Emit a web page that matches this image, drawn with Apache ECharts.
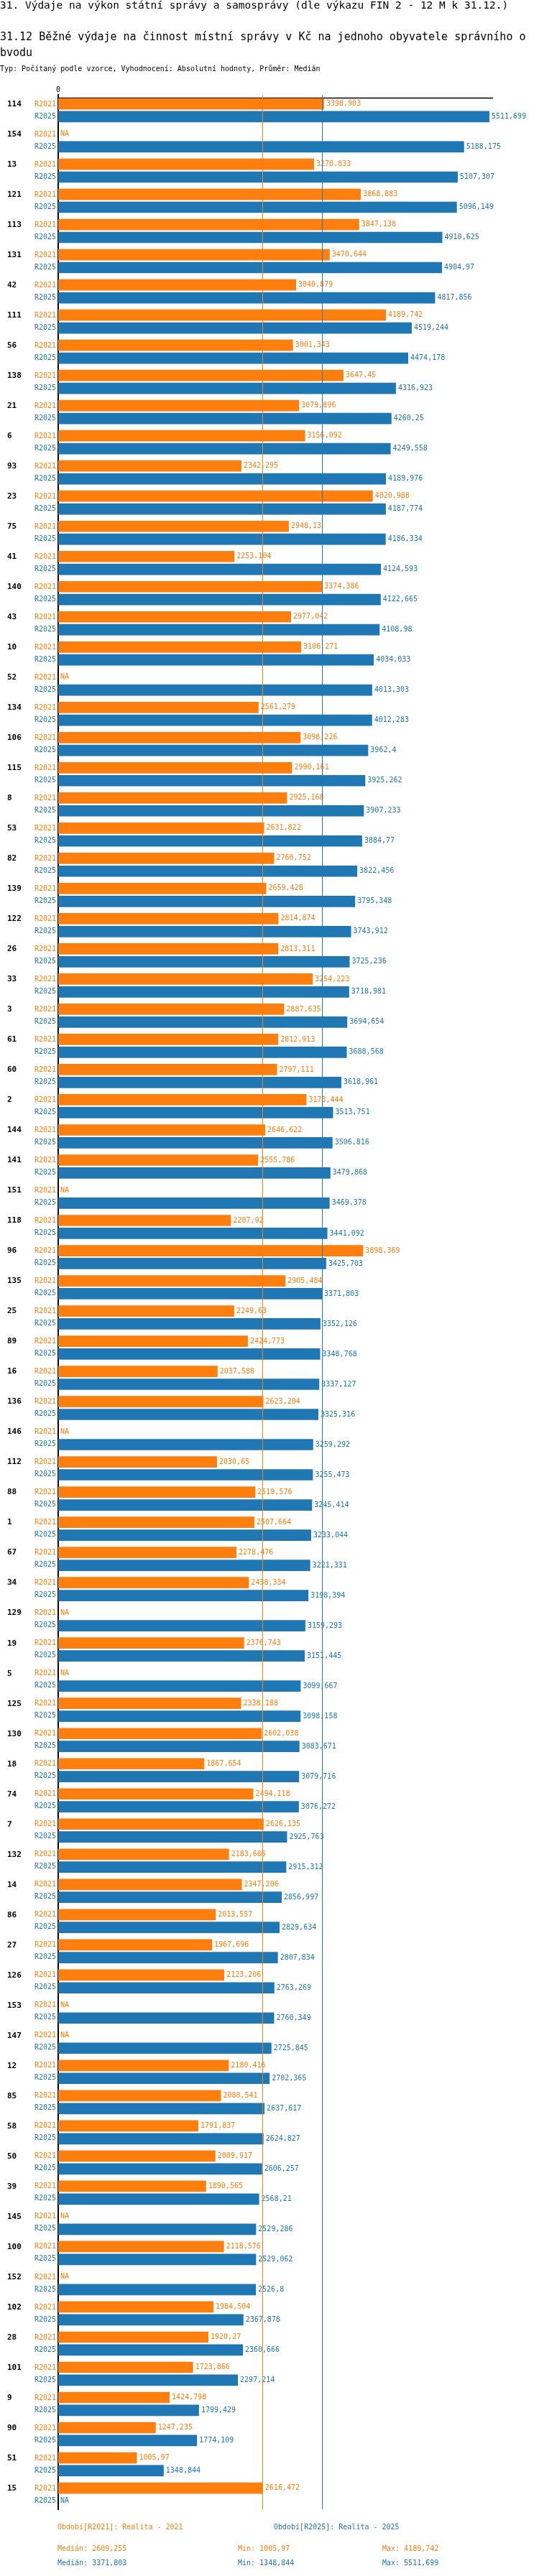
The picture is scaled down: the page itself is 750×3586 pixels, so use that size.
<!DOCTYPE html>
<html>
<head>
<meta charset="utf-8">
<script src="https://cdn.jsdelivr.net/npm/echarts@6/dist/echarts.min.js"></script>
<style>
html,body{margin:0;padding:0;background:#fff;}
#chart{width:750px;height:3586px;}
</style>
</head>
<body>
<div id="chart"></div>
<script>
var categories = ["114","154","13","121","113","131","42","111","56","138",
"21","6","93","23","75","41","140","43","10","52",
"134","106","115","8","53","82","139","122","26","33",
"3","61","60","2","144","141","151","118","96","135",
"25","89","16","136","146","112","88","1","67","34",
"129","19","5","125","130","18","74","7","132","14",
"86","27","126","153","147","12","85","58","50","39",
"145","100","152","102","28","101","9","90","51","15"];

var r2021 = [3398.903, null, 3270.833, 3868.883, 3847.138, 3470.644, 3040.879, 4189.742, 3001.343, 3647.45,
3079.896, 3156.092, 2342.295, 4020.988, 2948.13, 2253.104, 3374.386, 2977.042, 3106.271, null,
2561.279, 3098.226, 2990.161, 2925.168, 2631.822, 2760.752, 2659.428, 2814.874, 2813.311, 3254.223,
2887.635, 2812.913, 2797.111, 3173.444, 2646.622, 2555.786, null, 2207.92, 3898.369, 2905.484,
2249.63, 2424.773, 2037.588, 2623.204, null, 2030.65, 2519.576, 2507.664, 2278.476, 2438.334,
null, 2376.743, null, 2338.188, 2602.038, 1867.654, 2494.118, 2626.135, 2183.686, 2347.206,
2013.557, 1967.696, 2123.206, null, null, 2180.416, 2080.541, 1791.837, 2009.917, 1890.565,
null, 2118.576, null, 1984.504, 1920.27, 1723.866, 1424.798, 1247.235, 1005.97, 2616.472];

var r2025 = [5511.699, 5188.175, 5107.307, 5096.149, 4910.625, 4904.97, 4817.856, 4519.244, 4474.178, 4316.923,
4260.25, 4249.558, 4189.976, 4187.774, 4186.334, 4124.593, 4122.665, 4108.98, 4034.033, 4013.303,
4012.283, 3962.4, 3925.262, 3907.233, 3884.77, 3822.456, 3795.348, 3743.912, 3725.236, 3718.981,
3694.654, 3688.568, 3618.961, 3513.751, 3506.816, 3479.868, 3469.378, 3441.092, 3425.703, 3371.803,
3352.126, 3348.768, 3337.127, 3325.316, 3259.292, 3255.473, 3245.414, 3233.044, 3221.331, 3198.394,
3159.293, 3151.445, 3099.667, 3098.158, 3083.671, 3079.716, 3076.272, 2925.763, 2915.312, 2856.997,
2829.634, 2807.834, 2763.269, 2760.349, 2725.845, 2702.365, 2637.617, 2624.827, 2606.257, 2568.21,
2529.286, 2529.062, 2526.8, 2367.878, 2360.666, 2297.214, 1799.429, 1774.109, 1348.844, null];

var seriesNames = ["R2021", "R2025"];
var legendNames = ["Období[R2021]: Realita - 2021", "Období[R2025]: Realita - 2025"];
var colors = ["#ff7f0e", "#1f77b4"];

var MONO = '"DejaVu Sans Mono", "Liberation Mono", monospace';

function fmt(v) {
  var r = Math.round(v * 1000) / 1000;
  return String(r).replace('.', ',');
}
function stats(arr) {
  var a = arr.filter(function (v) { return v != null; }).sort(function (x, y) { return x - y; });
  var n = a.length;
  var med = n % 2 ? a[(n - 1) / 2] : (a[n / 2 - 1] + a[n / 2]) / 2;
  return { median: med, min: a[0], max: a[n - 1] };
}
var s21 = stats(r2021), s25 = stats(r2025);

function toData(arr) {
  return arr.map(function (v) {
    return v == null ? { value: 0, label: { formatter: 'NA' } } : v;
  });
}

function barSeries(idx, arr) {
  return {
    name: seriesNames[idx],
    type: 'bar',
    z: 3,
    data: toData(arr),
    barWidth: 15.7,
    barGap: '14%',
    itemStyle: { color: colors[idx] },
    label: {
      show: true,
      position: 'right',
      distance: 3,
      color: colors[idx],
      fontFamily: MONO,
      fontSize: 10,
      backgroundColor: '#fff',
      padding: [0, 1, 0, 0],
      formatter: function (p) { return fmt(p.value); }
    },
    animation: false,
    silent: true
  };
}

function medianSeries(idx, value) {
  return {
    type: 'line',
    z: 1,
    data: [],
    silent: true,
    animation: false,
    markLine: {
      silent: true,
      animation: false,
      symbol: ['none', 'none'],
      label: { show: false },
      lineStyle: { color: colors[idx], width: 1, type: 'solid' },
      data: [{ xAxis: value }]
    }
  };
}

var chart = echarts.init(document.getElementById('chart'), null, { renderer: 'canvas' });

var texts = [
  { x: 0, y: 8, text: '31. Výdaje na výkon státní správy a samosprávy (dle výkazu FIN 2 - 12 M k 31.12.)', size: 14.5, color: '#000' },
  { x: 0, y: 52, text: '31.12 Běžné výdaje na činnost místní správy v Kč na jednoho obyvatele správního o', size: 15, color: '#000' },
  { x: 0, y: 74, text: 'bvodu', size: 15, color: '#000' },
  { x: 0, y: 96, text: 'Typ: Počítaný podle vzorce, Vyhodnocení: Absolutní hodnoty, Průměr: Medián', size: 10, color: '#000' },
  { x: 80, y: 3518, text: legendNames[0], size: 10, color: colors[0] },
  { x: 381, y: 3518, text: legendNames[1], size: 10, color: colors[1] },
  { x: 80, y: 3548, text: 'Medián: ' + fmt(s21.median), size: 10, color: colors[0] },
  { x: 331, y: 3548, text: 'Min: ' + fmt(s21.min), size: 10, color: colors[0] },
  { x: 532, y: 3548, text: 'Max: ' + fmt(s21.max), size: 10, color: colors[0] },
  { x: 80, y: 3568, text: 'Medián: ' + fmt(s25.median), size: 10, color: colors[1] },
  { x: 331, y: 3568, text: 'Min: ' + fmt(s25.min), size: 10, color: colors[1] },
  { x: 532, y: 3568, text: 'Max: ' + fmt(s25.max), size: 10, color: colors[1] }
];

var option = {
  animation: false,
  backgroundColor: '#fff',
  grid: { left: 81, right: 64.3, top: 132.5, height: 3361, containLabel: false },
  xAxis: {
    type: 'value',
    position: 'top',
    offset: -3.5,
    min: 0,
    max: 5555,
    interval: 10000,
    axisLine: { show: true, lineStyle: { color: '#000', width: 1.3 } },
    axisTick: { show: true, length: 5, lineStyle: { color: '#000', width: 1.5 } },
    splitLine: { show: false },
    axisLabel: {
      show: true,
      margin: 6,
      color: '#000',
      fontFamily: MONO,
      fontSize: 10,
      showMaxLabel: false,
      formatter: function (v) { return v === 0 ? '0' : ''; }
    }
  },
  yAxis: {
    type: 'category',
    inverse: true,
    data: categories,
    axisLine: { show: true, lineStyle: { color: '#000', width: 2 } },
    axisTick: { show: false },
    splitLine: { show: false },
    axisLabel: {
      margin: 3,
      interval: 0,
      align: 'right',
      formatter: function (c) {
        return '{c|' + c + '}{a|' + seriesNames[0] + '}\n{e| }{b|' + seriesNames[1] + '}';
      },
      rich: {
        c: { width: 38, align: 'left', fontFamily: MONO, fontSize: 11, fontWeight: 'bold', color: '#000', lineHeight: 17 },
        a: { width: 30, align: 'right', fontFamily: MONO, fontSize: 10, color: colors[0], lineHeight: 17 },
        e: { width: 38, fontFamily: MONO, fontSize: 10, lineHeight: 17 },
        b: { width: 30, align: 'right', fontFamily: MONO, fontSize: 10, color: colors[1], lineHeight: 17 }
      }
    }
  },
  series: [
    medianSeries(0, s21.median),
    medianSeries(1, s25.median),
    barSeries(0, r2021),
    barSeries(1, r2025)
  ],
  graphic: texts.map(function (t) {
    return {
      type: 'text',
      silent: true,
      style: {
        x: t.x, y: t.y, text: t.text,
        font: t.size + 'px ' + MONO,
        fill: t.color,
        align: 'left',
        verticalAlign: 'middle'
      }
    };
  })
};

chart.setOption(option);
</script>
</body>
</html>
